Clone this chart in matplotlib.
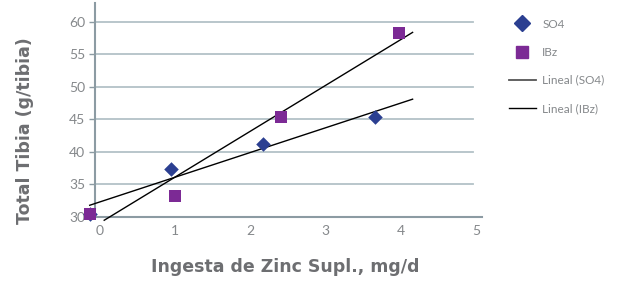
import numpy as np
import matplotlib
matplotlib.use("Agg")
import matplotlib.pyplot as plt
from matplotlib.lines import Line2D

# ---- data ----
so4_x = [-0.13, 0.95, 2.17, 3.65]
so4_y = [30.5, 37.4, 41.2, 45.4]
ibz_x = [-0.13, 1.00, 2.40, 3.97]
ibz_y = [30.5, 33.2, 45.4, 58.3]
trend_x_range = [-0.13, 4.15]
x_ticks = [0, 1, 2, 3, 4, 5]
y_ticks = [30, 35, 40, 45, 50, 55, 60]

series_labels = ["SO4", "IBz", "Lineal (SO4)", "Lineal (IBz)"]
x_label = "Ingesta de Zinc Supl., mg/d"
y_label = "Total Tibia (g/tibia)"

# ---- style ----
c_so4 = "#2B3F91"
c_ibz = "#7C2A95"
c_grid = "#B3C2C7"
c_axis = "#8C9BA3"
c_tick = "#85888B"
c_label = "#6D6E71"

fig = plt.figure(figsize=(6.17, 2.81), dpi=100)
ax = fig.add_axes([95/617, 1-217/281, (482-95)/617, (217-3)/281])
ax.set_xlim(-0.06, 5.07)
ax.set_ylim(30, 62.9)

for s in ["top", "right"]:
    ax.spines[s].set_visible(False)
for s in ["left", "bottom"]:
    ax.spines[s].set_color(c_axis)
    ax.spines[s].set_linewidth(1.5)

# gridlines
for yv in y_ticks[1:]:
    ax.axhline(yv, xmin=0, xmax=(473-95)/387, color=c_grid, lw=1.3, zorder=0)

tick_font = dict(family="Lato", weight="normal")
ax.set_xticks(x_ticks)
ax.set_yticks(y_ticks)
ax.set_xticklabels([str(v) for v in x_ticks], fontdict=tick_font, fontsize=10, color=c_tick)
ax.set_yticklabels([str(v) for v in y_ticks], fontdict=tick_font, fontsize=10, color=c_tick)
ax.tick_params(axis="x", length=0, pad=6)
ax.tick_params(axis="y", length=4, width=1, color=c_axis, pad=3)

# trend lines (least squares)
xs = np.array(trend_x_range)
ybot = 29.5
for xd, yd in [(so4_x, so4_y), (ibz_x, ibz_y)]:
    m, b = np.polyfit(xd, yd, 1)
    x0 = max(xs[0], (ybot - b) / m)
    xx = np.array([x0, xs[1]])
    ax.plot(xx, m*xx + b, color="black", lw=1.0, clip_on=False, zorder=3)

ax.scatter(so4_x, so4_y, marker="D", s=55, color=c_so4, zorder=4, clip_on=False, linewidths=0)
ax.scatter(ibz_x, ibz_y, marker="s", s=75, color=c_ibz, zorder=5, clip_on=False, linewidths=0)

fig.text(285/617, 1-267/281, x_label, fontsize=12.5, family="DejaVu Sans", weight="bold",
         color=c_label, ha="center", va="center")
fig.text(25/617, 1-131/281, y_label, fontsize=12.5, family="DejaVu Sans", weight="bold",
         color=c_label, ha="center", va="center", rotation=90)

handles = [
    Line2D([], [], marker="D", color=c_so4, ls="none", markersize=8),
    Line2D([], [], marker="s", color=c_ibz, ls="none", markersize=8),
    Line2D([], [], color="#555555", lw=1.3),
    Line2D([], [], color="black", lw=1.0),
]
leg = fig.legend(handles, series_labels, loc="upper left", bbox_to_anchor=(505/617, 1-15/281),
                 frameon=False, handlelength=2.3, labelspacing=1.45, handletextpad=0.55,
                 borderaxespad=0, borderpad=0.3,
                 prop=dict(family="Lato", weight="normal", size=8.5))
for t in leg.get_texts():
    t.set_color(c_tick)

fig.savefig("out.png", dpi=100)
